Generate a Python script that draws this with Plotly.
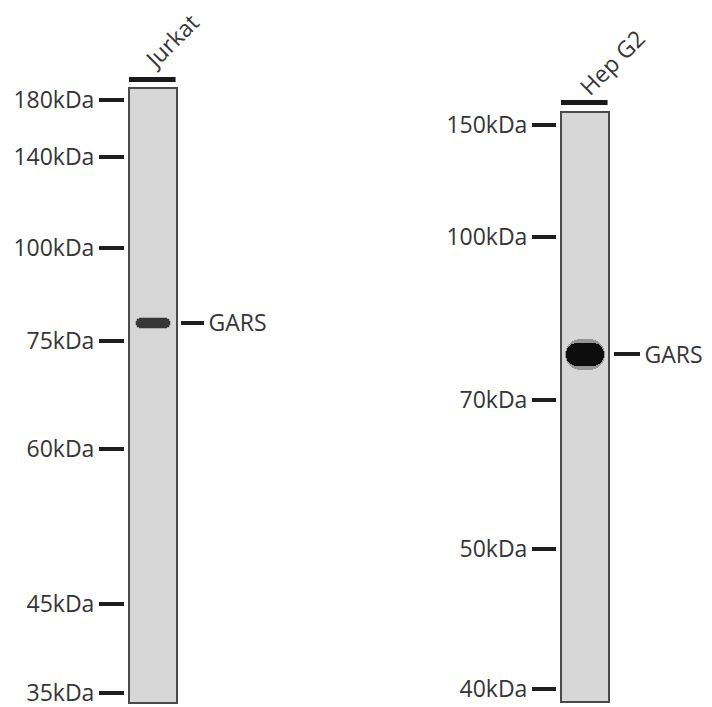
import plotly.graph_objects as go

# ---------------- data ----------------
lanes = ["Jurkat", "Hep G2"]
target = "GARS"

# marker ladders (kDa) and their migration (fraction of lane length from top)
left_marker_kda = [180, 140, 100, 75, 60, 45, 35]
left_marker_mig = [0.020, 0.112, 0.260, 0.411, 0.587, 0.839, 0.984]
right_marker_kda = [150, 100, 70, 50, 40]
right_marker_mig = [0.022, 0.212, 0.488, 0.741, 0.978]

# detected band migration for each lane
band_mig = [0.382, 0.411]

# ---------------- style ----------------
W, H = 712, 707
FONT = "Open Sans"
TXT = "#353535"
LANE_FILL = "#d7d7d7"
LANE_EDGE = "#4a4a4a"

left_lane_px = (129, 177, 88, 703)   # x0, x1, ytop, ybottom
right_lane_px = (561, 609, 112, 702)

def xdom(p):
    return [p[0] / W, p[1] / W]

def ydom(p):
    return [1 - p[3] / H, 1 - p[2] / H]

band_style = [
    dict(width=0.72, thick=0.0155, color="#363636", glow="rgba(70,70,70,0.30)", r="50%"),
    dict(width=0.80, thick=0.040, color="#0d0d0d", glow="rgba(30,30,30,0.35)", r="50%"),
]

fig = go.Figure()

ladders = [(left_marker_kda, left_marker_mig), (right_marker_kda, right_marker_mig)]
axes = [("x", "y", "y3"), ("x2", "y2", "y4")]
for i, lane in enumerate(lanes):
    xa, ya, ya_g = axes[i]
    st = band_style[i]
    kda, mig = ladders[i]
    # invisible ladder points so the marker axis is tied to data
    fig.add_trace(go.Scatter(
        x=[lane] * len(mig), y=mig, mode="markers", marker=dict(size=1, opacity=0),
        xaxis=xa, yaxis=ya, showlegend=False, hoverinfo="skip"))
    # soft halo
    fig.add_trace(go.Bar(
        x=[lane], base=[band_mig[i] - st["thick"] * 0.65], y=[st["thick"] * 1.3],
        width=st["width"] * 1.06, marker=dict(color=st["glow"], line=dict(width=0),
                                              cornerradius=st["r"]),
        xaxis=xa, yaxis=ya_g, showlegend=False, hoverinfo="skip"))
    # band core
    fig.add_trace(go.Bar(
        x=[lane], base=[band_mig[i] - st["thick"] / 2], y=[st["thick"]],
        width=st["width"], marker=dict(color=st["color"], line=dict(width=0),
                                       cornerradius=st["r"]),
        xaxis=xa, yaxis=ya_g, showlegend=False, hoverinfo="skip"))

common_y = dict(range=[1, 0], showgrid=False, zeroline=False, showline=False,
                automargin=False, ticklabeloverflow="allow",
                ticks="outside", tickwidth=3.5, tickcolor="#1e1e1e",
                tickfont=dict(family=FONT, size=23, color=TXT), fixedrange=True)

fig.update_layout(
    width=W, height=H, margin=dict(l=0, r=0, t=0, b=0, autoexpand=False),
    paper_bgcolor="white", plot_bgcolor="rgba(0,0,0,0)",
    barmode="overlay", bargap=0,
    xaxis=dict(domain=xdom(left_lane_px), anchor="y", type="category", automargin=False,
               range=[-0.5, 0.5], visible=False, fixedrange=True),
    xaxis2=dict(domain=xdom(right_lane_px), anchor="y2", type="category", automargin=False,
                range=[-0.5, 0.5], visible=False, fixedrange=True),
    yaxis=dict(domain=ydom(left_lane_px), anchor="free", position=124 / W,
               tickvals=left_marker_mig,
               ticktext=[f"{k}kDa" for k in left_marker_kda], ticklen=25, **common_y),
    yaxis2=dict(domain=ydom(right_lane_px), anchor="free", position=556 / W,
                tickvals=right_marker_mig,
                ticktext=[f"{k}kDa" for k in right_marker_kda], ticklen=24, **common_y),
    yaxis3=dict(overlaying="y", side="right", anchor="free", position=180 / W,
                tickvals=[band_mig[0]], ticktext=[target], ticklen=23, **common_y),
    yaxis4=dict(overlaying="y2", side="right", anchor="free", position=613 / W,
                tickvals=[band_mig[1]], ticktext=[target], ticklen=26, **common_y),
)

# lane rectangles and loading bars
bars_y = [(1.0098, 1.0180), (1.0119, 1.0203)]
for i, (xr, yr) in enumerate([("x domain", "y domain"), ("x2 domain", "y2 domain")]):
    fig.add_shape(type="rect", xref=xr, yref=yr, x0=0, x1=1, y0=0, y1=1,
                  fillcolor=LANE_FILL, line=dict(color=LANE_EDGE, width=2), layer="below")
    fig.add_shape(type="rect", xref=xr, yref=yr, x0=0.0, x1=0.97,
                  y0=bars_y[i][0], y1=bars_y[i][1],
                  fillcolor="#1a1a1a", line=dict(width=0))

# rotated lane labels
label_pos = [(171, 41), (612, 62)]
for lane, (px, py) in zip(lanes, label_pos):
    fig.add_annotation(text=lane, x=px / W, y=1 - py / H, xref="paper", yref="paper",
                       showarrow=False, textangle=-45, xanchor="center", yanchor="middle",
                       font=dict(family=FONT, size=23, color=TXT))

fig.write_html("out.html", config={"displayModeBar": False},
               post_script="document.body.style.margin='0';")
